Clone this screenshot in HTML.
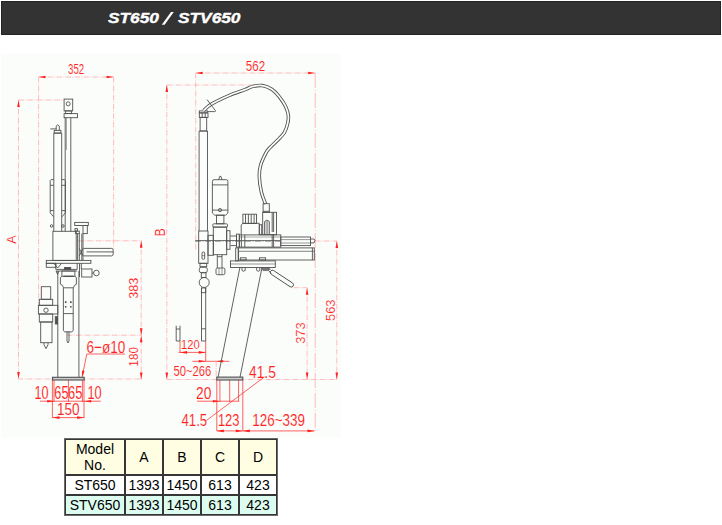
<!DOCTYPE html>
<html><head><meta charset="utf-8">
<style>
html,body{margin:0;padding:0;background:#fff;width:722px;height:525px;overflow:hidden;position:relative;font-family:"Liberation Sans",sans-serif;}
#bar{position:absolute;left:1px;top:1px;width:718px;height:32px;background:#333;border:1px solid #232323;}
#bar span{position:absolute;top:8px;color:#fff;font-weight:bold;font-style:italic;font-size:14px;white-space:nowrap;transform-origin:0 0;-webkit-text-stroke:0.35px #fff;}
#dwg{position:absolute;left:0;top:0;font-family:"Liberation Sans",sans-serif;}
table{position:absolute;left:64px;top:438px;border-collapse:separate;border-spacing:0;border:1px solid #6a6a6a;font-size:14px;color:#000;}
td{border:1px solid #363636;padding:0;text-align:center;vertical-align:middle;}
tr.h td{background:#fffee3;height:34px;line-height:16px;}
tr.r2 td{background:#fff;height:18px;line-height:18px;}
tr.r3 td{background:#ddfcf0;height:18px;line-height:18px;}
td.c1{width:58px;}
td.c{width:36px;}
</style></head><body>
<div id="bar"><span id="t1" style="left:105.5px;transform:scaleX(1.235)">ST650</span><span id="t3" style="left:175.5px;transform:scaleX(1.235)">STV650</span></div>
<svg id="dwg" width="722" height="440" viewBox="0 0 722 440">
<rect x="1" y="54" width="340" height="384" fill="#fbfdfb"/>
<polygon points="161.8,24.7 164.6,24.7 173.8,12.1 171.0,12.1" fill="#fff"/>
<line x1="38.5" y1="77" x2="113.6" y2="77" stroke="#ffb0b0" stroke-width="0.85" stroke-dasharray="5.5 1.3 0.9 1.3"/>
<polygon points="38.5,77 45.5,75.7 45.5,78.3" fill="#ff2020"/>
<polygon points="113.6,77 106.6,75.7 106.6,78.3" fill="#ff2020"/>
<text x="68.12" y="73.90" font-size="14.58" textLength="16.10" lengthAdjust="spacingAndGlyphs" fill="#ff2020" stroke="#fbfdfb" stroke-width="0.12">352</text>
<line x1="38.6" y1="77" x2="38.6" y2="304.7" stroke="#ffb0b0" stroke-width="0.85" stroke-dasharray="5.5 1.3 0.9 1.3"/>
<line x1="113.6" y1="77" x2="113.6" y2="249" stroke="#ffb0b0" stroke-width="0.85" stroke-dasharray="5.5 1.3 0.9 1.3"/>
<line x1="18.5" y1="100" x2="18.5" y2="379" stroke="#ffb0b0" stroke-width="0.85" stroke-dasharray="5.5 1.3 0.9 1.3"/>
<polygon points="18.5,100 17.2,107 19.8,107" fill="#ff2020"/>
<polygon points="18.5,379 17.2,372 19.8,372" fill="#ff2020"/>
<line x1="18.5" y1="100" x2="64" y2="100" stroke="#ffb0b0" stroke-width="0.85" stroke-dasharray="5.5 1.3 0.9 1.3"/>
<text transform="translate(16.40,243.75) rotate(-90)" x="0" y="0" font-size="12.50" textLength="8.38" lengthAdjust="spacingAndGlyphs" fill="#ff2020" stroke="#fbfdfb" stroke-width="0.12">A</text>
<line x1="17.7" y1="379" x2="142" y2="379" stroke="#ffb0b0" stroke-width="0.85" stroke-dasharray="5.5 1.3 0.9 1.3"/>
<line x1="141.2" y1="240.7" x2="141.2" y2="379.5" stroke="#ffb0b0" stroke-width="0.85" stroke-dasharray="5.5 1.3 0.9 1.3"/>
<polygon points="141.2,240.7 139.89999999999998,247.7 142.5,247.7" fill="#ff2020"/>
<polygon points="141.2,335.2 139.89999999999998,328.2 142.5,328.2" fill="#ff2020"/>
<polygon points="141.2,335.2 139.89999999999998,342.2 142.5,342.2" fill="#ff2020"/>
<polygon points="141.2,379.5 139.89999999999998,372.5 142.5,372.5" fill="#ff2020"/>
<line x1="78" y1="240.8" x2="142" y2="240.8" stroke="#ffb0b0" stroke-width="0.85" stroke-dasharray="5.5 1.3 0.9 1.3"/>
<line x1="67" y1="335.2" x2="142" y2="335.2" stroke="#ffb0b0" stroke-width="0.85" stroke-dasharray="5.5 1.3 0.9 1.3"/>
<text transform="translate(138.20,298.70) rotate(-90)" x="0" y="0" font-size="13.33" textLength="20.97" lengthAdjust="spacingAndGlyphs" fill="#ff2020" stroke="#fbfdfb" stroke-width="0.12">383</text>
<text transform="translate(138.20,366.70) rotate(-90)" x="0" y="0" font-size="13.33" textLength="19.77" lengthAdjust="spacingAndGlyphs" fill="#ff2020" stroke="#fbfdfb" stroke-width="0.12">180</text>
<text x="86.57" y="352.80" font-size="17.22" textLength="38.79" lengthAdjust="spacingAndGlyphs" fill="#ff2020" stroke="#fbfdfb" stroke-width="0.12">6−ø10</text>
<line x1="86.8" y1="354" x2="125" y2="354" stroke="#ff2020" stroke-width="0.7"/>
<line x1="86.8" y1="354" x2="82.2" y2="376.5" stroke="#ff2020" stroke-width="0.7"/>
<polygon points="81.9,378 82.1,370.5 84.6,371 " fill="#ff2020"/>
<line x1="52.4" y1="380" x2="52.4" y2="418" stroke="#ff2020" stroke-width="0.7"/>
<line x1="84.0" y1="380" x2="84.0" y2="418" stroke="#ff2020" stroke-width="0.7"/>
<line x1="54.0" y1="380" x2="54.0" y2="402" stroke="#ff2020" stroke-width="0.7"/>
<line x1="68.4" y1="380" x2="68.4" y2="402" stroke="#ff2020" stroke-width="0.7"/>
<line x1="82.4" y1="380" x2="82.4" y2="402" stroke="#ff2020" stroke-width="0.7"/>
<text x="34.43" y="399.20" font-size="17.78" textLength="14.06" lengthAdjust="spacingAndGlyphs" fill="#ff2020" stroke="#fbfdfb" stroke-width="0.12">10</text>
<text x="54.33" y="399.20" font-size="17.78" textLength="14.16" lengthAdjust="spacingAndGlyphs" fill="#ff2020" stroke="#fbfdfb" stroke-width="0.12">65</text>
<text x="68.03" y="399.20" font-size="17.78" textLength="14.36" lengthAdjust="spacingAndGlyphs" fill="#ff2020" stroke="#fbfdfb" stroke-width="0.12">65</text>
<text x="87.53" y="399.20" font-size="17.78" textLength="14.16" lengthAdjust="spacingAndGlyphs" fill="#ff2020" stroke="#fbfdfb" stroke-width="0.12">10</text>
<line x1="40" y1="401.2" x2="100.8" y2="401.2" stroke="#ff2020" stroke-width="0.7"/>
<polygon points="54.2,401.2 47.2,399.9 47.2,402.5" fill="#ff2020"/>
<polygon points="84.2,401.2 91.2,399.9 91.2,402.5" fill="#ff2020"/>
<text x="56.99" y="414.70" font-size="16.81" textLength="22.55" lengthAdjust="spacingAndGlyphs" fill="#ff2020" stroke="#fbfdfb" stroke-width="0.12">150</text>
<line x1="52.5" y1="417.6" x2="84.2" y2="417.6" stroke="#ff2020" stroke-width="0.7"/>
<polygon points="52.5,417.6 59.5,416.3 59.5,418.90000000000003" fill="#ff2020"/>
<polygon points="84.2,417.6 77.2,416.3 77.2,418.90000000000003" fill="#ff2020"/>
<line x1="195.7" y1="73" x2="315.2" y2="73" stroke="#ffb0b0" stroke-width="0.85" stroke-dasharray="5.5 1.3 0.9 1.3"/>
<polygon points="195.7,73 202.7,71.7 202.7,74.3" fill="#ff2020"/>
<polygon points="315.2,73 308.2,71.7 308.2,74.3" fill="#ff2020"/>
<text x="245.82" y="71.00" font-size="14.72" textLength="19.32" lengthAdjust="spacingAndGlyphs" fill="#ff2020" stroke="#fbfdfb" stroke-width="0.12">562</text>
<line x1="195.7" y1="73" x2="195.7" y2="250" stroke="#ffb0b0" stroke-width="0.85" stroke-dasharray="5.5 1.3 0.9 1.3"/>
<line x1="315.2" y1="73" x2="315.2" y2="431" stroke="#ffb0b0" stroke-width="0.85" stroke-dasharray="15 2 1 2"/>
<line x1="166.8" y1="85" x2="166.8" y2="379.5" stroke="#ffb0b0" stroke-width="0.85" stroke-dasharray="5.5 1.3 0.9 1.3"/>
<polygon points="166.8,85 165.5,92 168.10000000000002,92" fill="#ff2020"/>
<polygon points="166.8,379.5 165.5,372.5 168.10000000000002,372.5" fill="#ff2020"/>
<line x1="166.8" y1="85" x2="252" y2="85" stroke="#ffb0b0" stroke-width="0.85" stroke-dasharray="5.5 1.3 0.9 1.3"/>
<text transform="translate(165.40,236.22) rotate(-90)" x="0" y="0" font-size="13.75" textLength="7.91" lengthAdjust="spacingAndGlyphs" fill="#ff2020" stroke="#fbfdfb" stroke-width="0.12">B</text>
<line x1="166.8" y1="379.5" x2="338" y2="379.5" stroke="#ffb0b0" stroke-width="0.85" stroke-dasharray="5.5 1.3 0.9 1.3"/>
<line x1="336.8" y1="241" x2="336.8" y2="379.5" stroke="#ffb0b0" stroke-width="0.85" stroke-dasharray="5.5 1.3 0.9 1.3"/>
<polygon points="336.8,241 335.5,248 338.1,248" fill="#ff2020"/>
<polygon points="336.8,379.5 335.5,372.5 338.1,372.5" fill="#ff2020"/>
<line x1="315" y1="241" x2="337" y2="241" stroke="#ffb0b0" stroke-width="0.85" stroke-dasharray="5.5 1.3 0.9 1.3"/>
<text transform="translate(335.20,320.96) rotate(-90)" x="0" y="0" font-size="12.64" textLength="21.39" lengthAdjust="spacingAndGlyphs" fill="#ff2020" stroke="#fbfdfb" stroke-width="0.12">563</text>
<line x1="307.1" y1="287.7" x2="307.1" y2="379.5" stroke="#ffb0b0" stroke-width="0.85" stroke-dasharray="5.5 1.3 0.9 1.3"/>
<polygon points="307.1,287.7 305.8,294.7 308.40000000000003,294.7" fill="#ff2020"/>
<polygon points="307.1,379.5 305.8,372.5 308.40000000000003,372.5" fill="#ff2020"/>
<line x1="293.5" y1="287.7" x2="307.1" y2="287.7" stroke="#ffb0b0" stroke-width="0.85" stroke-dasharray="5.5 1.3 0.9 1.3"/>
<text transform="translate(305.10,343.81) rotate(-90)" x="0" y="0" font-size="13.47" textLength="21.38" lengthAdjust="spacingAndGlyphs" fill="#ff2020" stroke="#fbfdfb" stroke-width="0.12">373</text>
<line x1="178.5" y1="352.4" x2="205.7" y2="352.4" stroke="#ff2020" stroke-width="0.7"/>
<polygon points="180,352.4 187,351.09999999999997 187,353.7" fill="#ff2020"/>
<polygon points="205.7,352.4 198.7,351.09999999999997 198.7,353.7" fill="#ff2020"/>
<text x="181.10" y="349.00" font-size="13.33" textLength="18.57" lengthAdjust="spacingAndGlyphs" fill="#ff2020" stroke="#fbfdfb" stroke-width="0.12">120</text>
<line x1="180" y1="341" x2="180" y2="352.4" stroke="#ff2020" stroke-width="0.7"/>
<line x1="205.7" y1="341" x2="205.7" y2="361.3" stroke="#ff2020" stroke-width="0.7"/>
<line x1="192.4" y1="361.3" x2="229.5" y2="361.3" stroke="#ff2020" stroke-width="0.7"/>
<polygon points="205.7,361.3 198.7,360.0 198.7,362.6" fill="#ff2020"/>
<polygon points="216.2,361.3 223.2,360.0 223.2,362.6" fill="#ff2020"/>
<text x="173.40" y="375.90" font-size="15.00" textLength="37.85" lengthAdjust="spacingAndGlyphs" fill="#ff2020" stroke="#fbfdfb" stroke-width="0.12">50~266</text>
<line x1="216.2" y1="361.3" x2="216.2" y2="379" stroke="#ffb0b0" stroke-width="0.85" stroke-dasharray="5.5 1.3 0.9 1.3"/>
<text x="248.99" y="377.90" font-size="16.81" textLength="26.85" lengthAdjust="spacingAndGlyphs" fill="#ff2020" stroke="#fbfdfb" stroke-width="0.12">41.5</text>
<text x="181.49" y="425.70" font-size="16.81" textLength="25.75" lengthAdjust="spacingAndGlyphs" fill="#ff2020" stroke="#fbfdfb" stroke-width="0.12">41.5</text>
<line x1="206.4" y1="420.5" x2="264.6" y2="376.8" stroke="#ff2020" stroke-width="0.7"/>
<text x="196.00" y="398.60" font-size="16.67" textLength="15.33" lengthAdjust="spacingAndGlyphs" fill="#ff2020" stroke="#fbfdfb" stroke-width="0.12">20</text>
<line x1="197" y1="401.2" x2="238.6" y2="401.2" stroke="#ff2020" stroke-width="0.7"/>
<polygon points="219.9,401.2 212.9,399.9 212.9,402.5" fill="#ff2020"/>
<line x1="216.8" y1="380" x2="216.8" y2="431" stroke="#ff2020" stroke-width="0.7"/>
<line x1="242.8" y1="380" x2="242.8" y2="431" stroke="#ff2020" stroke-width="0.7"/>
<line x1="219.9" y1="380" x2="219.9" y2="401.8" stroke="#ff2020" stroke-width="0.7"/>
<line x1="229.7" y1="380" x2="229.7" y2="401.8" stroke="#ff2020" stroke-width="0.7"/>
<line x1="238.6" y1="380" x2="238.6" y2="401.8" stroke="#ff2020" stroke-width="0.7"/>
<text x="217.89" y="425.70" font-size="16.81" textLength="21.55" lengthAdjust="spacingAndGlyphs" fill="#ff2020" stroke="#fbfdfb" stroke-width="0.12">123</text>
<text x="252.19" y="425.70" font-size="16.81" textLength="52.75" lengthAdjust="spacingAndGlyphs" fill="#ff2020" stroke="#fbfdfb" stroke-width="0.12">126~339</text>
<line x1="216.8" y1="430.9" x2="314.5" y2="430.9" stroke="#ff2020" stroke-width="0.7"/>
<polygon points="216.8,430.9 223.8,429.59999999999997 223.8,432.2" fill="#ff2020"/>
<polygon points="242.8,430.9 235.8,429.59999999999997 235.8,432.2" fill="#ff2020"/>
<polygon points="242.8,430.9 249.8,429.59999999999997 249.8,432.2" fill="#ff2020"/>
<polygon points="314.5,430.9 307.5,429.59999999999997 307.5,432.2" fill="#ff2020"/>
<rect x="64.1" y="99.1" width="8.600000000000009" height="11.800000000000011" stroke="#505050" stroke-width="0.9" fill="none"/>
<circle cx="68.2" cy="103.8" r="2" stroke="#505050" stroke-width="0.9" fill="none"/>
<rect x="65.4" y="110.9" width="6.0" height="2.6999999999999886" stroke="#505050" stroke-width="0.9" fill="none"/>
<rect x="64.1" y="113.6" width="13.400000000000006" height="4.1000000000000085" stroke="#505050" stroke-width="0.9" fill="none"/>
<line x1="65.2" y1="117.7" x2="65.2" y2="231.3" stroke="#505050" stroke-width="0.9"/>
<line x1="66.3" y1="117.7" x2="66.3" y2="150" stroke="#505050" stroke-width="0.6"/>
<line x1="70.8" y1="117.7" x2="70.8" y2="231.3" stroke="#505050" stroke-width="0.9"/>
<line x1="53.8" y1="133.1" x2="53.8" y2="231.3" stroke="#505050" stroke-width="0.9"/>
<line x1="61.7" y1="133.1" x2="61.7" y2="231.3" stroke="#505050" stroke-width="0.9"/>
<line x1="53.8" y1="133.1" x2="61.7" y2="133.1" stroke="#505050" stroke-width="0.9"/>
<rect x="54.2" y="130.4" width="6.699999999999996" height="2.6999999999999886" stroke="#505050" stroke-width="0.9" fill="none"/>
<path d="M56.2,130.4 V126 Q57.75,123.6 59.3,126 V130.4" stroke="#505050" stroke-width="0.9" fill="none"/>
<line x1="50.3" y1="128.9" x2="56.2" y2="128.9" stroke="#505050" stroke-width="0.9"/>
<path d="M53.8,179.6 H51 L50.2,180.5 V212.8 L53.6,216.8" stroke="#505050" stroke-width="0.9" fill="none"/>
<line x1="50.2" y1="185.3" x2="53.8" y2="185.3" stroke="#505050" stroke-width="0.9"/>
<line x1="50.2" y1="210.6" x2="53.8" y2="210.6" stroke="#505050" stroke-width="0.9"/>
<path d="M61.7,179.6 H64.6 L65.4,180.5 V212.8 L62,216.8" stroke="#505050" stroke-width="0.9" fill="none"/>
<line x1="61.7" y1="185.3" x2="65.4" y2="185.3" stroke="#505050" stroke-width="0.9"/>
<line x1="61.7" y1="210.6" x2="65.4" y2="210.6" stroke="#505050" stroke-width="0.9"/>
<circle cx="51.6" cy="226" r="1.3" stroke="#505050" stroke-width="0.9" fill="none"/>
<circle cx="62.9" cy="226" r="1.3" stroke="#505050" stroke-width="0.9" fill="none"/>
<rect x="52.9" y="231.3" width="23.300000000000004" height="29.099999999999966" stroke="#505050" stroke-width="0.9" fill="none"/>
<rect x="74.7" y="222.4" width="13.599999999999994" height="3.0999999999999943" stroke="#505050" stroke-width="0.9" fill="none"/>
<rect x="83" y="225.5" width="4.299999999999997" height="8.099999999999994" stroke="#505050" stroke-width="0.9" fill="none"/>
<rect x="75" y="228.6" width="2.4000000000000057" height="2.5" stroke="#505050" stroke-width="0.9" fill="none"/>
<rect x="75.6" y="231.1" width="3.700000000000003" height="2.5" stroke="#505050" stroke-width="0.9" fill="none"/>
<line x1="77.6" y1="233.6" x2="77.6" y2="260.4" stroke="#505050" stroke-width="0.9"/>
<line x1="79.3" y1="233.6" x2="79.3" y2="260.4" stroke="#505050" stroke-width="0.9"/>
<line x1="81.8" y1="233.6" x2="81.8" y2="260.4" stroke="#505050" stroke-width="0.9"/>
<line x1="83" y1="233.6" x2="83" y2="260.4" stroke="#505050" stroke-width="0.9"/>
<line x1="79.3" y1="248.5" x2="83" y2="255.9" stroke="#505050" stroke-width="0.9"/>
<line x1="83" y1="248.5" x2="79.3" y2="255.9" stroke="#505050" stroke-width="0.9"/>
<path d="M83.4,248.4 H111.5 Q113.2,248.4 113.2,250.3 V254 Q113.2,255.9 111.5,255.9 H83.4" stroke="#505050" stroke-width="0.9" fill="none"/>
<line x1="86.5" y1="251.9" x2="113.2" y2="251.9" stroke="#505050" stroke-width="0.9"/>
<rect x="46.3" y="260.4" width="44.60000000000001" height="2.900000000000034" stroke="#505050" stroke-width="0.9" fill="none"/>
<rect x="46.3" y="263.3" width="9.5" height="4.0" stroke="#505050" stroke-width="0.9" fill="none"/>
<path d="M55.8,263.3 V269.4 H77.2 V263.3" stroke="#505050" stroke-width="0.9" fill="none"/>
<path d="M53.8,263.3 L57.7,268 L61.5,263.3" stroke="#505050" stroke-width="0.9" fill="none"/>
<rect x="64.6" y="267.5" width="6.1000000000000085" height="1.8999999999999773" stroke="#505050" stroke-width="0.9" fill="#505050"/>
<line x1="55.8" y1="271" x2="77.2" y2="271" stroke="#505050" stroke-width="0.9"/>
<path d="M56.2,271 L57.5,274.5 L58.9,271" stroke="#505050" stroke-width="0.9" fill="none"/>
<rect x="81.7" y="269" width="10.299999999999997" height="8" stroke="#505050" stroke-width="0.9" fill="none"/>
<circle cx="96.4" cy="273" r="2.8" stroke="#505050" stroke-width="0.9" fill="none"/>
<line x1="92" y1="273" x2="93.6" y2="273" stroke="#505050" stroke-width="0.9"/>
<line x1="79.5" y1="263.3" x2="79.5" y2="277" stroke="#505050" stroke-width="0.9"/>
<line x1="81.3" y1="263.3" x2="81.3" y2="269" stroke="#505050" stroke-width="0.9"/>
<rect x="61.9" y="271" width="13.000000000000007" height="5.300000000000011" stroke="#505050" stroke-width="0.9" fill="none"/>
<line x1="63.4" y1="276.3" x2="73.7" y2="276.3" stroke="#505050" stroke-width="1.3"/>
<path d="M61.9,276.3 L60.4,277.5 V284.2 Q63,284.6 63.6,287.8 H73.5 Q74,284.6 76.4,284.2 V277.5 L74.9,276.3" stroke="#505050" stroke-width="0.9" fill="none"/>
<line x1="57.8" y1="271" x2="57.8" y2="377.3" stroke="#505050" stroke-width="0.9"/>
<line x1="78.9" y1="271" x2="78.9" y2="377.3" stroke="#505050" stroke-width="0.9"/>
<path d="M63.4,287.8 V330.6 L64.8,331.9 H71.8 L73.2,330.6 V287.8" stroke="#505050" stroke-width="0.9" fill="none"/>
<line x1="63.4" y1="313.6" x2="73.2" y2="313.6" stroke="#505050" stroke-width="0.9"/>
<rect x="65.10000000000001" y="301.7" width="1.1999999999999886" height="1.2000000000000455" stroke="#505050" stroke-width="0.3" fill="#505050"/>
<rect x="70.4" y="301.7" width="1.1999999999999886" height="1.2000000000000455" stroke="#505050" stroke-width="0.3" fill="#505050"/>
<rect x="65.10000000000001" y="306.29999999999995" width="1.1999999999999886" height="1.2000000000000455" stroke="#505050" stroke-width="0.3" fill="#505050"/>
<rect x="70.4" y="306.29999999999995" width="1.1999999999999886" height="1.2000000000000455" stroke="#505050" stroke-width="0.3" fill="#505050"/>
<path d="M67,331.4 V341 L68,343 L69,341 V331.4" stroke="#505050" stroke-width="0.9" fill="none"/>
<rect x="41.3" y="286.7" width="9.400000000000006" height="12.600000000000023" stroke="#505050" stroke-width="0.9" fill="none"/>
<rect x="39.3" y="299.3" width="13.400000000000006" height="6.0" stroke="#505050" stroke-width="0.9" fill="none"/>
<rect x="38.4" y="305.3" width="19.4" height="8.699999999999989" stroke="#505050" stroke-width="0.9" fill="none"/>
<circle cx="46" cy="310.2" r="2.2" stroke="#505050" stroke-width="0.9" fill="none"/>
<rect x="39.3" y="314" width="13.400000000000006" height="8" stroke="#505050" stroke-width="0.9" fill="none"/>
<rect x="40.7" y="322" width="11.299999999999997" height="20.69999999999999" stroke="#505050" stroke-width="0.9" fill="none"/>
<path d="M44,342.7 V344.7 L46,348.7 L48,344.7 V342.7" stroke="#505050" stroke-width="0.9" fill="none"/>
<rect x="55.3" y="316.7" width="2.200000000000003" height="7.300000000000011" stroke="#505050" stroke-width="0.9" fill="#505050"/>
<rect x="52.5" y="377.3" width="31.700000000000003" height="2.6999999999999886" stroke="#505050" stroke-width="1.1" fill="#ccc"/>
<rect x="199.3" y="110.9" width="8.0" height="2.0" stroke="#505050" stroke-width="0.9" fill="none"/>
<rect x="199.3" y="112.9" width="8.699999999999989" height="4.5" stroke="#505050" stroke-width="0.9" fill="none"/>
<line x1="202.2" y1="112.9" x2="202.2" y2="117.4" stroke="#505050" stroke-width="0.9"/>
<line x1="205.2" y1="112.9" x2="205.2" y2="117.4" stroke="#505050" stroke-width="0.9"/>
<rect x="200.1" y="117.4" width="6.599999999999994" height="13.599999999999994" stroke="#505050" stroke-width="0.9" fill="none"/>
<line x1="199.1" y1="131" x2="199.1" y2="231" stroke="#505050" stroke-width="0.9"/>
<line x1="207.5" y1="131" x2="207.5" y2="231" stroke="#505050" stroke-width="0.9"/>
<line x1="199.1" y1="131" x2="207.5" y2="131" stroke="#505050" stroke-width="0.9"/>
<rect x="198.7" y="231" width="9.300000000000011" height="32.30000000000001" stroke="#505050" stroke-width="0.9" fill="none"/>
<path d="M203.5,110.8 C204.72,109.75 206.53,107.05 210.8,104.5 C215.07,101.95 223.40,97.98 229.1,95.5 C234.80,93.02 241.02,91.12 245,89.6 C248.98,88.08 250.12,87.07 253,86.4 C255.88,85.73 259.18,85.12 262.3,85.6 C265.42,86.08 268.80,87.35 271.7,89.3 C274.60,91.25 277.37,94.40 279.7,97.3 C282.03,100.20 284.27,103.70 285.7,106.7 C287.13,109.70 287.97,112.53 288.3,115.3 C288.63,118.07 288.37,120.40 287.7,123.3 C287.03,126.20 286.08,129.80 284.3,132.7 C282.52,135.60 279.33,138.27 277,140.7 C274.67,143.13 272.07,145.40 270.3,147.3 C268.53,149.20 268.00,149.15 266.4,152.1 C264.80,155.05 261.88,160.95 260.7,165 C259.52,169.05 259.18,171.88 259.3,176.4 C259.42,180.92 260.37,187.53 261.4,192.1 C262.43,196.67 264.82,201.85 265.5,203.8" stroke="#505050" stroke-width="3.5" fill="none"/>
<path d="M203.5,110.8 C204.72,109.75 206.53,107.05 210.8,104.5 C215.07,101.95 223.40,97.98 229.1,95.5 C234.80,93.02 241.02,91.12 245,89.6 C248.98,88.08 250.12,87.07 253,86.4 C255.88,85.73 259.18,85.12 262.3,85.6 C265.42,86.08 268.80,87.35 271.7,89.3 C274.60,91.25 277.37,94.40 279.7,97.3 C282.03,100.20 284.27,103.70 285.7,106.7 C287.13,109.70 287.97,112.53 288.3,115.3 C288.63,118.07 288.37,120.40 287.7,123.3 C287.03,126.20 286.08,129.80 284.3,132.7 C282.52,135.60 279.33,138.27 277,140.7 C274.67,143.13 272.07,145.40 270.3,147.3 C268.53,149.20 268.00,149.15 266.4,152.1 C264.80,155.05 261.88,160.95 260.7,165 C259.52,169.05 259.18,171.88 259.3,176.4 C259.42,180.92 260.37,187.53 261.4,192.1 C262.43,196.67 264.82,201.85 265.5,203.8" stroke="#fbfdfb" stroke-width="1.7" fill="none"/>
<path d="M207.1,99.7 L215.4,110.6 Q215.8,111.6 214.6,111.6 H207.3" stroke="#505050" stroke-width="0.9" fill="none"/>
<path d="M212.4,213 V181.3 Q212.4,179.7 214,179.7 H226.3 Q227.9,179.7 227.9,181.3 V213 L225.6,215.2 H214.7 Z" stroke="#505050" stroke-width="0.9" fill="none"/>
<line x1="212.4" y1="184.9" x2="227.9" y2="184.9" stroke="#505050" stroke-width="0.9"/>
<line x1="212.4" y1="210.1" x2="227.9" y2="210.1" stroke="#505050" stroke-width="0.9"/>
<circle cx="220" cy="210.1" r="1.6" stroke="#505050" stroke-width="0.9" fill="none"/>
<path d="M218.7,179.7 L219.7,176.4 H221 L222,179.7" stroke="#505050" stroke-width="0.9" fill="none"/>
<rect x="216.5" y="215.2" width="7.400000000000006" height="8.600000000000023" stroke="#505050" stroke-width="0.9" fill="none"/>
<rect x="212.8" y="223.8" width="14.699999999999989" height="3.299999999999983" stroke="#505050" stroke-width="0.9" fill="none" rx="1"/>
<rect x="213.3" y="227.1" width="13.399999999999977" height="27.599999999999994" stroke="#505050" stroke-width="0.9" fill="none"/>
<rect x="226.7" y="230.7" width="3.3000000000000114" height="18.600000000000023" stroke="#505050" stroke-width="0.9" fill="none"/>
<rect x="208" y="235.3" width="5.300000000000011" height="20.0" stroke="#505050" stroke-width="0.9" fill="none"/>
<path d="M217.3,254.7 V268 M222,254.7 V268" stroke="#505050" stroke-width="0.9" fill="none"/>
<line x1="217.3" y1="256.7" x2="222" y2="256.7" stroke="#505050" stroke-width="0.9"/>
<rect x="216" y="268" width="8.900000000000006" height="6.699999999999989" stroke="#505050" stroke-width="0.9" fill="none" rx="1.5"/>
<line x1="219" y1="268" x2="219" y2="274.7" stroke="#505050" stroke-width="0.6"/>
<line x1="222" y1="268" x2="222" y2="274.7" stroke="#505050" stroke-width="0.6"/>
<path d="M230.3,236 H236.5 V245.6 H230.3" stroke="#505050" stroke-width="0.9" fill="none"/>
<rect x="236.5" y="234.1" width="2.8000000000000114" height="13.0" stroke="#505050" stroke-width="0.9" fill="none"/>
<line x1="195.3" y1="240.5" x2="280" y2="240.5" stroke="#505050" stroke-width="0.8"/>
<line x1="195" y1="241.4" x2="280" y2="241.4" stroke="#505050" stroke-width="0.5" stroke-dasharray="6 1.5 1 1.5"/>
<rect x="242.9" y="214.2" width="13.599999999999994" height="9.300000000000011" stroke="#505050" stroke-width="0.9" fill="none"/>
<line x1="245.5" y1="214.2" x2="245.5" y2="223.5" stroke="#505050" stroke-width="0.9"/>
<line x1="248.4" y1="214.2" x2="248.4" y2="223.5" stroke="#505050" stroke-width="0.9"/>
<line x1="251.2" y1="214.2" x2="251.2" y2="223.5" stroke="#505050" stroke-width="0.9"/>
<line x1="254.1" y1="214.2" x2="254.1" y2="223.5" stroke="#505050" stroke-width="0.9"/>
<path d="M241.2,234.7 V225 L243,223.3 H259.3 V234.7" stroke="#505050" stroke-width="0.9" fill="none"/>
<rect x="259.3" y="224.7" width="2.3999999999999773" height="10.0" stroke="#505050" stroke-width="0.9" fill="none"/>
<rect x="263.1" y="203.7" width="6.199999999999989" height="8.600000000000023" stroke="#505050" stroke-width="0.9" fill="none"/>
<line x1="263.1" y1="211.3" x2="269.3" y2="211.3" stroke="#505050" stroke-width="0.9"/>
<rect x="262.7" y="212.3" width="13.800000000000011" height="22.399999999999977" stroke="#505050" stroke-width="0.9" fill="none"/>
<path d="M264.6,234.7 V221.5 Q267,218.6 269.3,221.5 V234.7" stroke="#505050" stroke-width="0.9" fill="none"/>
<line x1="266.2" y1="221" x2="266.2" y2="234.7" stroke="#505050" stroke-width="0.6"/>
<line x1="267.7" y1="221" x2="267.7" y2="234.7" stroke="#505050" stroke-width="0.6"/>
<line x1="272.2" y1="212.3" x2="272.2" y2="232" stroke="#505050" stroke-width="0.9"/>
<line x1="273.6" y1="212.3" x2="273.6" y2="232" stroke="#505050" stroke-width="0.9"/>
<rect x="239.3" y="234.9" width="41.5" height="12.199999999999989" stroke="#505050" stroke-width="0.9" fill="none"/>
<line x1="241.4" y1="234.9" x2="241.4" y2="247.1" stroke="#505050" stroke-width="0.9"/>
<line x1="244.8" y1="234.9" x2="244.8" y2="247.1" stroke="#505050" stroke-width="0.9"/>
<line x1="272.2" y1="234.7" x2="272.2" y2="247.1" stroke="#505050" stroke-width="0.9"/>
<line x1="273.6" y1="234.7" x2="273.6" y2="247.1" stroke="#505050" stroke-width="0.9"/>
<line x1="239.3" y1="237" x2="280.8" y2="237" stroke="#505050" stroke-width="0.5"/>
<rect x="280.8" y="237" width="29.69999999999999" height="8.599999999999994" stroke="#505050" stroke-width="0.9" fill="none"/>
<line x1="280.8" y1="239.6" x2="310.5" y2="239.6" stroke="#505050" stroke-width="0.6"/>
<line x1="280.8" y1="243" x2="310.5" y2="243" stroke="#505050" stroke-width="0.6"/>
<path d="M310.5,239 H314 L315,240.2 L314,242.9 H310.5" stroke="#505050" stroke-width="0.9" fill="none"/>
<rect x="238.3" y="247.9" width="76.0" height="12.099999999999994" stroke="#505050" stroke-width="0.9" fill="none"/>
<line x1="238.3" y1="251.3" x2="314.3" y2="251.3" stroke="#505050" stroke-width="0.7"/>
<line x1="312.4" y1="247.9" x2="312.4" y2="260" stroke="#505050" stroke-width="0.9"/>
<rect x="235.7" y="247.9" width="2.6000000000000227" height="12.999999999999972" stroke="#505050" stroke-width="0.9" fill="none"/>
<rect x="230.5" y="260.9" width="44.80000000000001" height="6.600000000000023" stroke="#505050" stroke-width="0.9" fill="none"/>
<line x1="230.5" y1="264" x2="275.3" y2="264" stroke="#505050" stroke-width="0.6"/>
<rect x="240.3" y="257.8" width="5.799999999999983" height="2.1999999999999886" stroke="#505050" stroke-width="0.9" fill="none"/>
<rect x="259.4" y="257.8" width="6.2000000000000455" height="2.1999999999999886" stroke="#505050" stroke-width="0.9" fill="none"/>
<path d="M242,267.5 V270.5 Q243.6,272 245.2,270.5 V267.5" stroke="#505050" stroke-width="0.9" fill="none"/>
<path d="M256.7,267.5 V270.5 Q258.3,272 259.8,270.5 V267.5" stroke="#505050" stroke-width="0.9" fill="none"/>
<path d="M261.6,267.5 L263,270.6 H268.7 L269.5,267.5 Z" stroke="#505050" stroke-width="0.6" fill="#777"/>
<path d="M268.7,269 L270.5,269.3 M268.7,270.6 L271.3,273.3" stroke="#505050" stroke-width="0.9" fill="none"/>
<rect x="0" y="-2.2" width="27" height="4.4" rx="2.2" transform="translate(270.6,271.2) rotate(33.4)" stroke="#505050" stroke-width="0.9" fill="none"/>
<line x1="239.9" y1="267.5" x2="218.1" y2="377.1" stroke="#505050" stroke-width="0.9"/>
<line x1="262" y1="267.5" x2="240" y2="377.1" stroke="#505050" stroke-width="0.9"/>
<rect x="216.8" y="377.1" width="26.0" height="2.8999999999999773" stroke="#505050" stroke-width="1.1" fill="#ccc"/>
<rect x="200" y="263.3" width="6.699999999999989" height="3.3999999999999773" stroke="#505050" stroke-width="0.9" fill="none"/>
<rect x="199.3" y="267.3" width="8.0" height="5.399999999999977" stroke="#505050" stroke-width="0.9" fill="none" rx="2"/>
<rect x="201.3" y="272.7" width="4.699999999999989" height="4.800000000000011" stroke="#505050" stroke-width="0.9" fill="none"/>
<circle cx="204.2" cy="282.5" r="5" stroke="#505050" stroke-width="0.9" fill="none"/>
<path d="M201.5,287.8 V341 H205.7 V287.8" stroke="#505050" stroke-width="0.9" fill="none"/>
<rect x="201.5" y="288" width="4.199999999999989" height="4.699999999999989" stroke="#505050" stroke-width="0.9" fill="none"/>
<line x1="201.5" y1="328.8" x2="205.7" y2="328.8" stroke="#505050" stroke-width="0.9"/>
<rect x="202" y="252" width="2.6999999999999886" height="7.300000000000011" stroke="#505050" stroke-width="0.9" fill="none" rx="1"/>
<line x1="202" y1="255.6" x2="204.7" y2="255.6" stroke="#505050" stroke-width="0.6"/>
<line x1="176.2" y1="325.7" x2="176.2" y2="341" stroke="#505050" stroke-width="0.9"/>
<line x1="180" y1="325.7" x2="180" y2="341" stroke="#505050" stroke-width="0.9"/>
<line x1="176.2" y1="341" x2="180" y2="341" stroke="#505050" stroke-width="0.9"/>
<line x1="176.2" y1="329" x2="180" y2="329" stroke="#505050" stroke-width="0.9"/>
</svg>
<table>
<tr class="h"><td class="c1">Model<br>No.</td><td class="c">A</td><td class="c">B</td><td class="c">C</td><td class="c">D</td></tr>
<tr class="r2"><td>ST650</td><td>1393</td><td>1450</td><td>613</td><td>423</td></tr>
<tr class="r3"><td>STV650</td><td>1393</td><td>1450</td><td>613</td><td>423</td></tr>
</table>
</body></html>
